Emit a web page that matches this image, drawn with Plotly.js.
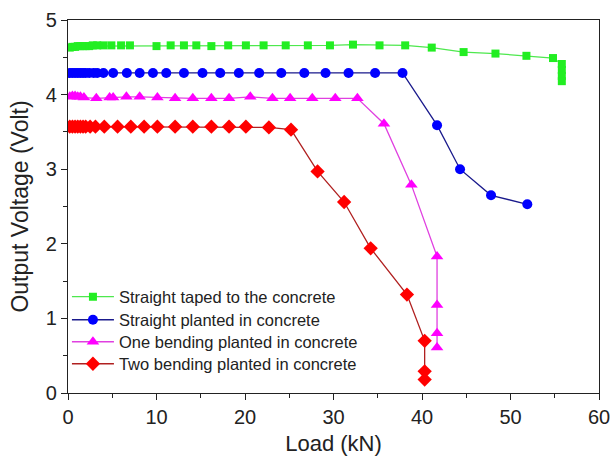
<!DOCTYPE html>
<html>
<head>
<meta charset="utf-8">
<script src="https://cdn.plot.ly/plotly-3.0.1.min.js"></script>
<style>html,body{margin:0;padding:0;background:#fff;}#chart{width:611px;height:461px;}</style>
</head>
<body>
<div id="chart"></div>
<script>
const seriesNames = ["Straight taped to the concrete", "Straight planted in concrete", "One bending planted in concrete", "Two bending planted in concrete"];

const greenX = [0.2,0.5,0.8,1.1,1.4,1.7,2.0,2.4,2.8,3.3,4.0,4.9,6.0,7.0,10.0,11.6,13.1,14.5,16.2,18.1,20.1,22.1,24.6,27.1,29.6,32.2,35.2,38.1,41.1,44.7,48.3,51.8,54.8,55.8,55.8,55.8,55.8];
const greenY = [4.63,4.64,4.64,4.65,4.65,4.65,4.65,4.65,4.66,4.66,4.66,4.66,4.66,4.66,4.65,4.66,4.66,4.66,4.65,4.66,4.66,4.66,4.66,4.66,4.66,4.67,4.66,4.66,4.63,4.57,4.55,4.52,4.49,4.41,4.33,4.25,4.18];

const blueX = [0.2,0.5,0.8,1.1,1.4,1.7,2.0,2.4,2.9,3.3,4.0,5.1,6.65,8.1,9.6,11.1,13.1,15.2,17.2,19.3,21.6,24.1,26.7,29.1,31.7,34.7,37.8,41.7,44.3,47.8,51.9];
const blueY = [4.29,4.29,4.29,4.29,4.29,4.29,4.29,4.29,4.29,4.29,4.29,4.29,4.29,4.29,4.29,4.29,4.29,4.29,4.29,4.29,4.29,4.29,4.29,4.29,4.29,4.29,4.29,3.59,3.00,2.65,2.53];

const magX = [0.2,0.5,0.8,1.1,1.4,1.8,3.2,4.7,5.1,6.6,8.1,10.1,12.1,14.1,16.2,18.2,20.6,23.1,25.1,27.6,30.2,32.7,35.7,38.8,41.7,41.7,41.7,41.7];
const magY = [3.97,3.98,3.98,3.97,3.97,3.96,3.95,3.96,3.96,3.97,3.97,3.96,3.95,3.95,3.95,3.95,3.97,3.95,3.95,3.95,3.95,3.95,3.61,2.79,1.83,1.18,0.80,0.61];

const redX = [0.2,0.5,0.8,1.1,1.4,1.7,2.0,2.5,3.1,4.1,5.6,7.1,8.6,10.1,12.1,14.1,16.2,18.2,20.1,22.7,25.2,28.2,31.2,34.2,38.3,40.3,40.3,40.3];
const redY = [3.57,3.57,3.57,3.57,3.57,3.57,3.57,3.57,3.57,3.57,3.57,3.57,3.57,3.57,3.57,3.57,3.57,3.57,3.57,3.56,3.53,2.97,2.56,1.94,1.32,0.70,0.29,0.18];

const xTicks = [0,10,20,30,40,50,60];
const yTicks = [0,1,2,3,4,5];

const traces = [
  {x: greenX, y: greenY, name: seriesNames[0], legend: "legend", mode: "lines+markers",
   line: {color: "#4ee84e", width: 1.3}, marker: {symbol: "square", size: 8, color: "#22ee22"}},
  {x: blueX, y: blueY, name: seriesNames[1], legend: "legend2", mode: "lines+markers",
   line: {color: "#1a1a8c", width: 1.3}, marker: {symbol: "circle", size: 10, color: "#0000ff"}},
  {x: magX, y: magY, name: seriesNames[2], legend: "legend3", mode: "lines+markers",
   line: {color: "#e040e0", width: 1.3}, marker: {symbol: "triangle-up", size: 11, color: "#ff00ff"}},
  {x: redX, y: redY, name: seriesNames[3], legend: "legend4", mode: "lines+markers",
   line: {color: "#b02020", width: 1.3}, marker: {symbol: "diamond", size: 11, color: "#ff0000"}}
];

const font = "Arial, 'Liberation Sans', sans-serif";
function leg(y) {
  return {x: -0.002, y: y, xanchor: "left", yanchor: "middle", bgcolor: "rgba(0,0,0,0)",
          font: {size: 16.5, family: font, color: "#222"}, itemwidth: 42};
}
const layout = {
  width: 611, height: 461,
  margin: {l: 68, r: 12, t: 20, b: 68},
  paper_bgcolor: "#fff", plot_bgcolor: "#fff",
  font: {family: font, color: "#222"},
  showlegend: true,
  legend: leg(0.2574),
  legend2: leg(0.1957),
  legend3: leg(0.1367),
  legend4: leg(0.0777),
  xaxis: {range: [0, 60], tickvals: xTicks, ticktext: xTicks.map(String), ticks: "outside", ticklen: 6,
          tickcolor: "#222", linecolor: "#222", linewidth: 1.2, showline: true, mirror: true,
          showgrid: false, zeroline: false, tickfont: {size: 20, family: font, color: "#222"},
          minor: {dtick: 5, ticks: "outside", ticklen: 4, tickcolor: "#222", showgrid: false},
          title: {text: "Load (kN)", font: {size: 22, family: font, color: "#222"}, standoff: 8}},
  yaxis: {range: [0, 5], tickvals: yTicks, ticktext: yTicks.map(String), ticks: "outside", ticklen: 6,
          tickcolor: "#222", linecolor: "#222", linewidth: 1.2, showline: true, mirror: true,
          showgrid: false, zeroline: false, tickfont: {size: 20, family: font, color: "#222"},
          minor: {dtick: 0.5, ticks: "outside", ticklen: 4, tickcolor: "#222", showgrid: false},
          title: {text: "Output Voltage (Volt)", font: {size: 23, family: font, color: "#222"}, standoff: 10}}
};

Plotly.newPlot("chart", traces, layout, {displayModeBar: false, staticPlot: true});
</script>
</body>
</html>
